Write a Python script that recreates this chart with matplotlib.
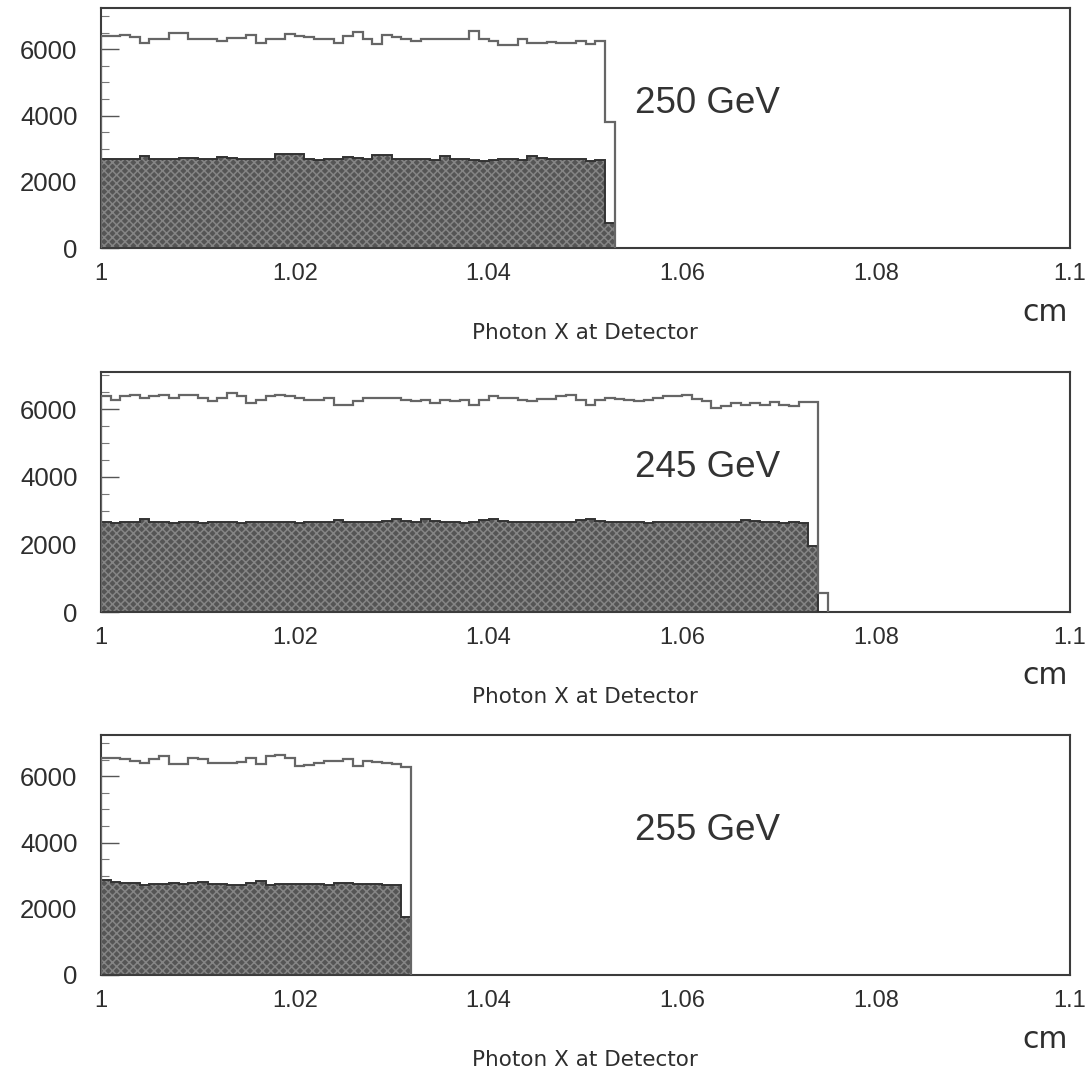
import numpy as np
import matplotlib
matplotlib.use("Agg")
import matplotlib.pyplot as plt
from matplotlib.ticker import MultipleLocator

# ---------------- data (counts per 0.001 cm bin, starting at x = 1.0 cm) -------------
bin_width = 0.001
x_start = 1.0

labels = ["250 GeV", "245 GeV", "255 GeV"]

open_250 = [6400, 6400, 6420, 6380, 6200, 6320, 6320, 6500, 6500, 6320,
            6320, 6300, 6250, 6350, 6350, 6420, 6200, 6320, 6320, 6470,
            6400, 6380, 6300, 6300, 6200, 6400, 6520, 6300, 6150, 6420,
            6380, 6320, 6250, 6300, 6320, 6320, 6320, 6320, 6550, 6320,
            6250, 6120, 6120, 6300, 6200, 6200, 6220, 6200, 6200, 6250,
            6150, 6250, 3800]
fill_250 = [2690, 2680, 2690, 2700, 2770, 2690, 2700, 2700, 2720, 2720,
            2680, 2700, 2760, 2710, 2700, 2690, 2680, 2700, 2850, 2850,
            2840, 2700, 2670, 2690, 2700, 2760, 2720, 2700, 2800, 2820,
            2700, 2680, 2690, 2700, 2660, 2770, 2700, 2690, 2660, 2620,
            2660, 2680, 2700, 2670, 2770, 2720, 2700, 2700, 2690, 2700,
            2630, 2660, 750]

open_245 = [6380, 6280, 6380, 6430, 6330, 6380, 6430, 6330, 6430, 6430,
            6330, 6230, 6330, 6480, 6380, 6180, 6280, 6380, 6430, 6380,
            6330, 6280, 6280, 6330, 6130, 6130, 6230, 6330, 6330, 6330,
            6330, 6280, 6230, 6280, 6180, 6280, 6230, 6280, 6130, 6280,
            6380, 6330, 6330, 6280, 6230, 6300, 6300, 6380, 6430, 6280,
            6130, 6280, 6330, 6300, 6280, 6230, 6280, 6330, 6400, 6380,
            6430, 6300, 6230, 6030, 6080, 6180, 6130, 6180, 6130, 6200,
            6130, 6100, 6200, 6200, 550]
fill_245 = [2650, 2640, 2650, 2660, 2740, 2660, 2650, 2640, 2650, 2650,
            2640, 2650, 2650, 2650, 2640, 2650, 2650, 2660, 2650, 2650,
            2640, 2650, 2650, 2650, 2720, 2650, 2660, 2650, 2650, 2700,
            2750, 2680, 2650, 2740, 2700, 2650, 2650, 2640, 2650, 2720,
            2750, 2700, 2650, 2660, 2650, 2650, 2650, 2660, 2650, 2720,
            2760, 2700, 2650, 2660, 2650, 2650, 2640, 2650, 2650, 2650,
            2650, 2650, 2650, 2650, 2650, 2660, 2720, 2700, 2650, 2650,
            2640, 2650, 2640, 1950, 0]

open_255 = [6560, 6560, 6510, 6460, 6410, 6510, 6610, 6360, 6360, 6560,
            6510, 6410, 6410, 6410, 6430, 6560, 6360, 6610, 6660, 6560,
            6300, 6330, 6410, 6460, 6460, 6530, 6300, 6460, 6430, 6410,
            6380, 6290]
fill_255 = [2880, 2800, 2770, 2780, 2720, 2760, 2760, 2780, 2760, 2790,
            2800, 2760, 2740, 2720, 2720, 2790, 2830, 2730, 2750, 2740,
            2740, 2760, 2760, 2720, 2790, 2780, 2750, 2750, 2750, 2720,
            2720, 1750]

panels = [(open_250, fill_250, 7250),
          (open_245, fill_245, 7100),
          (open_255, fill_255, 7250)]

x_ticks = [1.0, 1.02, 1.04, 1.06, 1.08, 1.1]
x_tick_labels = ["1", "1.02", "1.04", "1.06", "1.08", "1.1"]
y_ticks = [0, 2000, 4000, 6000]
x_title = "Photon X at Detector"
x_unit = "cm"

# ---------------- figure ----------------
plt.rcParams["hatch.linewidth"] = 1.1
fig = plt.figure(figsize=(10.91, 10.72), dpi=100)

W, H = 1091.0, 1072.0
axes_px = [(8, 248), (372, 612), (735, 975)]
left_px, right_px = 101, 1070

frame_col = "#3c3c3c"
text_col = "#2e2e2e"

for (top, bot), (ovals, fvals, ymax), lab in zip(axes_px, panels, labels):
    ax = fig.add_axes([left_px / W, 1 - bot / H, (right_px - left_px) / W, (bot - top) / H])
    f_edges = x_start + bin_width * np.arange(len(fvals) + 1)
    o_edges = x_start + bin_width * np.arange(len(ovals) + 1)

    ax.stairs(fvals, f_edges, baseline=0, fill=True, facecolor="#555555",
              edgecolor="#858585", hatch="xxxx", linewidth=0, zorder=2)
    ax.stairs(fvals, f_edges, baseline=0, fill=False, color="#333333",
              linewidth=1.4, zorder=3)
    ax.stairs(ovals, o_edges, baseline=0, fill=False, color="#666666",
              linewidth=1.6, zorder=4)

    ax.set_xlim(1.0, 1.1)
    ax.set_ylim(0, ymax)
    ax.set_xticks(x_ticks)
    ax.set_xticklabels(x_tick_labels)
    ax.set_yticks(y_ticks)
    ax.yaxis.set_minor_locator(MultipleLocator(500))
    ax.tick_params(axis="y", which="major", direction="in", length=13, width=1.0,
                   color="#555555", pad=17, labelsize=18.5, labelcolor=text_col)
    ax.tick_params(axis="y", which="minor", direction="in", length=6, width=0.8,
                   color="#777777")
    ax.tick_params(axis="x", which="major", direction="in", length=0,
                   pad=11, labelsize=17, labelcolor=text_col)
    for lbl in ax.get_xticklabels() + ax.get_yticklabels():
        lbl.set_family(["Liberation Sans", "DejaVu Sans"])
    for sp in ax.spines.values():
        sp.set_color(frame_col)
        sp.set_linewidth(1.5)

    ax.text(0.551, 0.604, lab, transform=ax.transAxes, ha="left", va="center",
            fontsize=26.5, color="#333333", family=["Liberation Sans", "DejaVu Sans"])

    # unit and axis title
    fig.text(1068 / W, 1 - (bot + 64) / H, x_unit, ha="right", va="center",
             fontsize=21.5, color=text_col, family=["DejaVu Sans"])
    fig.text(585 / W, 1 - (bot + 85) / H, x_title, ha="center", va="center",
             fontsize=15.5, color=text_col, family=["DejaVu Sans"])

fig.savefig("out.png", dpi=100, facecolor="white")
